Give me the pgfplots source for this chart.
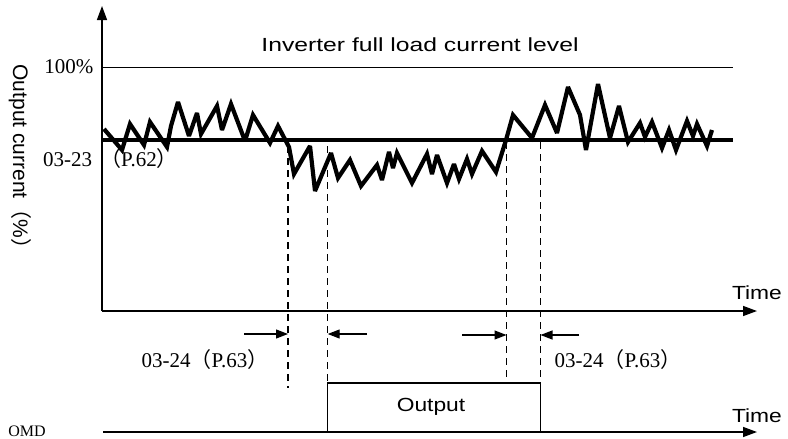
\documentclass[border=0pt]{standalone}
\usepackage{pgfplots}
\pgfplotsset{compat=1.18}
\usepackage{fontspec}
\setmainfont{Liberation Serif}
\newfontfamily\sans{Liberation Sans}
\newfontfamily\cjk{Noto Sans CJK SC}
\usetikzlibrary{arrows.meta}
\begin{document}
\begin{tikzpicture}
\useasboundingbox (0,0) rectangle (788pt,439pt);
\begin{axis}[at={(394pt,219.5pt)}, anchor=center, width=788pt, height=439pt,
  scale only axis, xmin=0, xmax=788, ymin=0, ymax=439, y dir=reverse,
  hide axis, clip=false]
% axes
\addplot[black, line width=1.4pt, -{Triangle[length=14pt,width=10pt]}] coordinates {(102,311) (102,6)};
\addplot[black, line width=1.4pt, -{Triangle[length=14pt,width=10pt]}] coordinates {(102,311) (757,311)};
\addplot[black, line width=1.4pt, -{Triangle[length=14pt,width=10pt]}] coordinates {(103,432) (757,432)};
% 100% level
\addplot[black, line width=1pt] coordinates {(102,67) (733,67)};
% threshold 03-23
\addplot[black, line width=3.6pt] coordinates {(102,140) (733,140)};
% output current
\addplot[black, line width=4.2pt, line join=miter, miter limit=3] coordinates {
(104,129) (122,150) (130,124) (144,145) (150,122) (167,147) (171,126) (178,102)
(189,136) (197,113) (201,134) (217,106) (222,130) (231,104) (245,141) (253,115)
(270,143) (278,126) (289,147) (294,174) (310,146) (315,191) (331,153) (338,178)
(350,160) (361,186) (377,165) (382,180) (389,152) (393,168) (397,153) (412,183)
(427,154) (432,174) (437,155) (447,183) (454,164) (459,179) (467,159) (472,174)
(482,151) (496,172) (506,140) (513,115) (532,138) (545,105) (557,133) (568,87)
(580,115) (586,150) (598,84) (610,138) (619,106) (628,142) (640,123) (645,137)
(652,122) (662,148) (669,130) (676,150) (687,121) (693,136) (697,124) (707,146)
(712,130)};
% dashed lines
\addplot[black, line width=1.2pt, dash pattern=on 7pt off 5pt] coordinates {(288,146) (288,388)};
\addplot[black, line width=1.2pt, dash pattern=on 7pt off 5pt] coordinates {(327.7,146) (327.7,383)};
\addplot[black, line width=1.2pt, dash pattern=on 7pt off 5pt] coordinates {(506.5,142) (506.5,377)};
\addplot[black, line width=1.2pt, dash pattern=on 7pt off 5pt] coordinates {(540.5,142) (540.5,383)};
% dimension arrows
\addplot[black, line width=1.2pt, -{Triangle[length=12pt,width=9pt]}] coordinates {(244,334) (288,334)};
\addplot[black, line width=1.2pt, -{Triangle[length=12pt,width=9pt]}] coordinates {(367,334) (327.7,334)};
\addplot[black, line width=1.2pt, -{Triangle[length=12pt,width=9pt]}] coordinates {(462,335) (506.5,335)};
\addplot[black, line width=1.2pt, -{Triangle[length=12pt,width=9pt]}] coordinates {(579,335) (540.5,335)};
% OMD output pulse
\addplot[black, line width=1.2pt] coordinates {(327.7,432) (327.7,383) (540.5,383) (540.5,432)};
% texts
\node[font=\sans\fontsize{19}{22}\selectfont] at (axis cs:420,45) {\scalebox{1.3}[1]{Inverter full load current level}};
\node[anchor=east, font=\fontsize{21}{24}\selectfont] at (axis cs:97,67) {100\%};
\node[anchor=west, inner sep=0pt, font=\fontsize{21}{24}\selectfont] at (axis cs:43,159) {03-23\hspace{8pt}{\cjk （}P.62{\cjk ）}};
\node[rotate=-90, font=\sans\fontsize{21}{24}\selectfont] at (axis cs:20,162) {Output current{\cjk （}\%{\cjk ）}};
\node[font=\sans\fontsize{19}{22}\selectfont] at (axis cs:757,293) {\scalebox{1.2}[1]{Time}};
\node[font=\sans\fontsize{19}{22}\selectfont] at (axis cs:757,416) {\scalebox{1.2}[1]{Time}};
\node[font=\fontsize{21}{24}\selectfont] at (axis cs:205,360) {03-24{\cjk （}P.63{\cjk ）}};
\node[font=\fontsize{21}{24}\selectfont] at (axis cs:618,360) {03-24{\cjk （}P.63{\cjk ）}};
\node[font=\sans\fontsize{19}{22}\selectfont] at (axis cs:431,407) {\scalebox{1.2}[1]{Output}};
\node[font=\fontsize{16}{19}\selectfont] at (axis cs:27,431) {OMD};
\end{axis}
\end{tikzpicture}
\end{document}
